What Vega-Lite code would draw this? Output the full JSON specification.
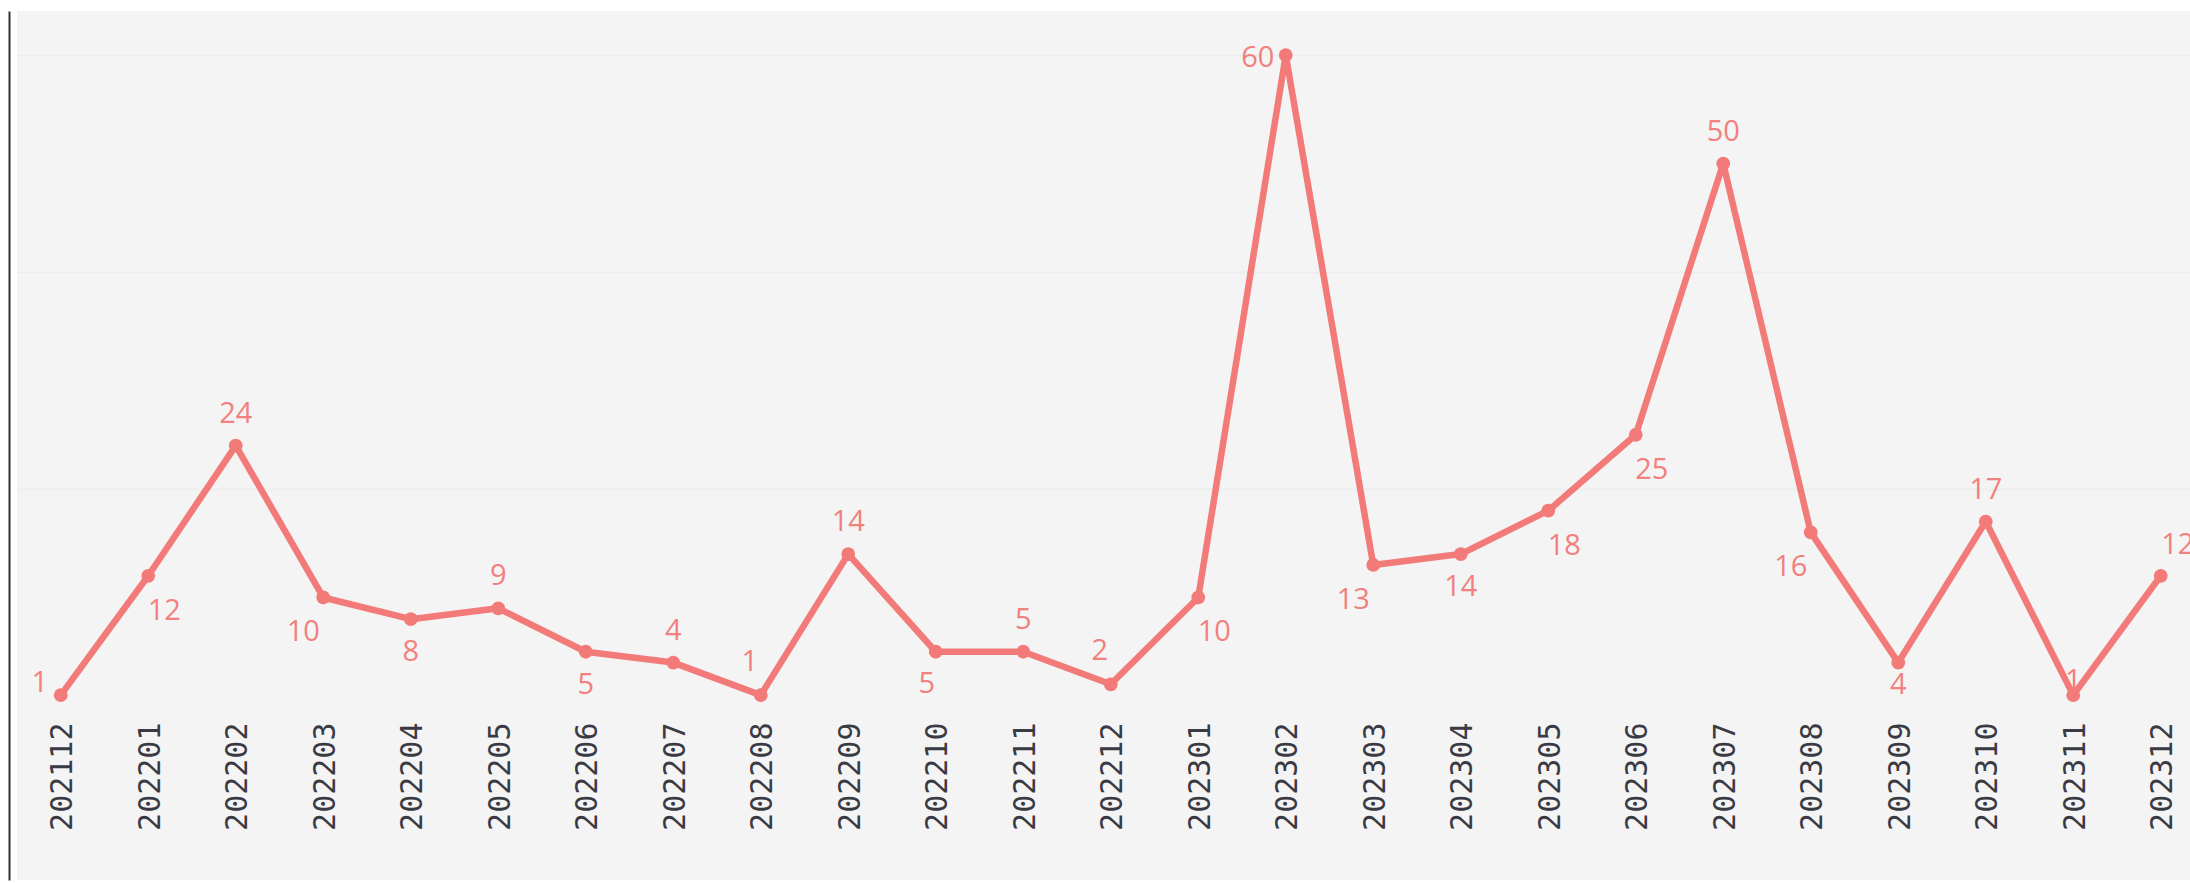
{
  "$schema": "https://vega.github.io/schema/vega-lite/v6.json",
  "autosize": {"type": "none"},
  "padding": {"left": 17, "top": 11, "right": 0, "bottom": 3},
  "width": 2173,
  "height": 869,
  "background": "white",
  "config": {"view": {"fill": "#f4f4f4", "stroke": null}},
  "data": {"values": [
    {"month": "202112", "value": 1},
    {"month": "202201", "value": 12},
    {"month": "202202", "value": 24},
    {"month": "202203", "value": 10},
    {"month": "202204", "value": 8},
    {"month": "202205", "value": 9},
    {"month": "202206", "value": 5},
    {"month": "202207", "value": 4},
    {"month": "202208", "value": 1},
    {"month": "202209", "value": 14},
    {"month": "202210", "value": 5},
    {"month": "202211", "value": 5},
    {"month": "202212", "value": 2},
    {"month": "202301", "value": 10},
    {"month": "202302", "value": 60},
    {"month": "202303", "value": 13},
    {"month": "202304", "value": 14},
    {"month": "202305", "value": 18},
    {"month": "202306", "value": 25},
    {"month": "202307", "value": 50},
    {"month": "202308", "value": 16},
    {"month": "202309", "value": 4},
    {"month": "202310", "value": 17},
    {"month": "202311", "value": 1},
    {"month": "202312", "value": 12}
  ]},
  "encoding": {
    "x": {
      "field": "month", "type": "nominal", "title": null,
      "scale": {
        "type": "point", "range": [0, 2187.5], "padding": 0.5,
        "domain": ["202112", "202201", "202202", "202203", "202204", "202205", "202206", "202207", "202208", "202209", "202210", "202211", "202212", "202301", "202302", "202303", "202304", "202305", "202306", "202307", "202308", "202309", "202310", "202311", "202312"]
      },
      "axis": {
        "offset": -174, "domain": false, "labelAngle": -90,
        "labelFont": "DejaVu Sans Mono", "labelFontSize": 30, "labelColor": "#3a3a44",
        "labelPadding": 16, "labelOffset": 2, "ticks": false, "grid": false, "labelOverlap": false
      }
    },
    "y": {
      "field": "value", "type": "quantitative", "title": null,
      "scale": {"domain": [-16.04, 64.06], "nice": false, "zero": false},
      "axis": {
        "values": [20, 40, 60], "labels": false, "ticks": false, "grid": true,
        "gridColor": "#ededed", "gridWidth": 2, "domain": true, "domainColor": "#333333",
        "domainWidth": 2, "offset": 8
      }
    }
  },
  "layer": [
    {"transform": [{"filter": {"field": "month", "oneOf": ["202202", "202205", "202207", "202209", "202211", "202307", "202310"]}}],
     "mark": {"type": "text", "font": "Open Sans", "fontSize": 29, "color": "#f1807e", "dy": -32},
     "encoding": {"text": {"field": "value"}}},
    {"transform": [{"filter": {"field": "month", "oneOf": ["202208", "202212"]}}],
     "mark": {"type": "text", "font": "Open Sans", "fontSize": 29, "color": "#f1807e", "dx": -11, "dy": -33},
     "encoding": {"text": {"field": "value"}}},
    {"transform": [{"filter": {"field": "month", "oneOf": ["202312"]}}],
     "mark": {"type": "text", "font": "Open Sans", "fontSize": 29, "color": "#f1807e", "dx": 17, "dy": -31},
     "encoding": {"text": {"field": "value"}}},
    {"transform": [{"filter": {"field": "month", "oneOf": ["202204", "202206", "202304"]}}],
     "mark": {"type": "text", "font": "Open Sans", "fontSize": 29, "color": "#f1807e", "dy": 33},
     "encoding": {"text": {"field": "value"}}},
    {"transform": [{"filter": {"field": "month", "oneOf": ["202210"]}}],
     "mark": {"type": "text", "font": "Open Sans", "fontSize": 29, "color": "#f1807e", "dx": -9, "dy": 32},
     "encoding": {"text": {"field": "value"}}},
    {"transform": [{"filter": {"field": "month", "oneOf": ["202201", "202301", "202305", "202306"]}}],
     "mark": {"type": "text", "font": "Open Sans", "fontSize": 29, "color": "#f1807e", "dx": 16, "dy": 35},
     "encoding": {"text": {"field": "value"}}},
    {"transform": [{"filter": {"field": "month", "oneOf": ["202203", "202303", "202308"]}}],
     "mark": {"type": "text", "font": "Open Sans", "fontSize": 29, "color": "#f1807e", "dx": -20, "dy": 35},
     "encoding": {"text": {"field": "value"}}},
    {"transform": [{"filter": {"field": "month", "oneOf": ["202302"]}}],
     "mark": {"type": "text", "font": "Open Sans", "fontSize": 29, "color": "#f1807e", "dx": -28, "dy": 3},
     "encoding": {"text": {"field": "value"}}},
    {"transform": [{"filter": {"field": "month", "oneOf": ["202112"]}}],
     "mark": {"type": "text", "font": "Open Sans", "fontSize": 29, "color": "#f1807e", "dx": -21, "dy": -12},
     "encoding": {"text": {"field": "value"}}},
    {"transform": [{"filter": {"field": "month", "oneOf": ["202309"]}}],
     "mark": {"type": "text", "font": "Open Sans", "fontSize": 29, "color": "#f1807e", "dy": 22},
     "encoding": {"text": {"field": "value"}}},
    {"transform": [{"filter": {"field": "month", "oneOf": ["202311"]}}],
     "mark": {"type": "text", "font": "Open Sans", "fontSize": 29, "color": "#f1807e", "dy": -14},
     "encoding": {"text": {"field": "value"}}},
    {"mark": {"type": "line", "color": "#f27b79", "strokeWidth": 6.5, "strokeJoin": "round"}},
    {"mark": {"type": "point", "filled": true, "color": "#f27b79", "size": 190, "opacity": 1}}
  ]
}
